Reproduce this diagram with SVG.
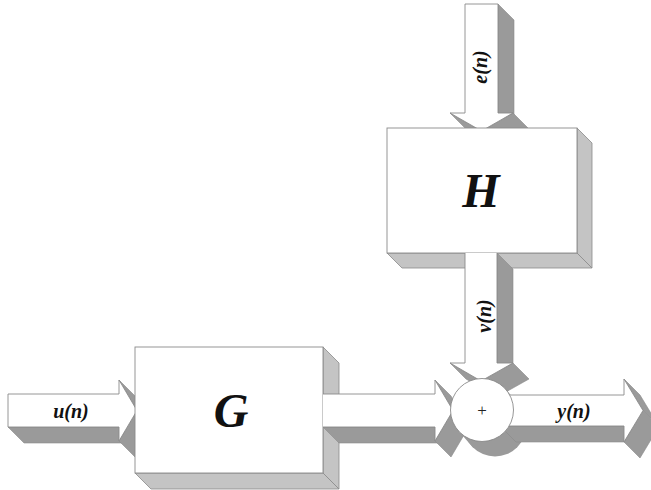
<svg xmlns="http://www.w3.org/2000/svg" width="651" height="490" viewBox="0 0 651 490">
<style>
.bg{fill:#ffffff}
.face{fill:#ffffff;stroke:#8a8a8a;stroke-width:0.9;stroke-linejoin:miter}
.fill{fill:#ffffff;stroke:none}
.edge{fill:none;stroke:#8a8a8a;stroke-width:0.9}
.sh{fill:#9a9a9a;stroke:#8a8a8a;stroke-width:0.6;stroke-linejoin:round}
.side{fill:#c4c4c4;stroke:#8a8a8a;stroke-width:0.8}
.lbl{font-family:"Liberation Serif","Times New Roman",serif;font-weight:bold;font-style:italic;fill:#111}
.big{font-size:48px}
.sm{font-size:20px}
.plus{font-family:"Liberation Serif","Times New Roman",serif;font-size:17px;fill:#222}
</style>
<rect class="bg" x="0" y="0" width="651" height="490"/>

<g id="connectors">
  <!-- u(n) input arrow -->
  <g id="arrow-u">
    <polygon class="sh" points="8,427 119,427 135,443 24,443"/>
    <polygon class="sh" points="119,380 137,410.5 153,426.5 135,396"/>
    <polygon class="sh" points="137,410.5 119,441 135,457 153,426.5"/>
    <polygon class="face" points="8,394 119,394 119,380 137,410.5 119,441 119,427 8,427"/>
    <text class="lbl sm" x="71" y="418" text-anchor="middle">u(n)</text>
  </g>
  <!-- e(n) input arrow -->
  <g id="arrow-e">
    <polygon class="sh" points="498,4 514,20 514,129 498,113"/>
    <polygon class="sh" points="513,113 481.5,131 497.5,147 529,129"/>
    <polygon class="sh" points="481.5,131 450,113 466,129 497.5,147"/>
    <polygon class="face" points="465,4 498,4 498,113 513,113 481.5,131 450,113 465,113"/>
    <g transform="translate(481,67) rotate(-90)"><text class="lbl sm" x="0" y="6" text-anchor="middle">e(n)</text></g>
  </g>
</g>

<g id="node-G">
  <polygon class="side" points="323,347 339,363 339,489 323,473"/>
  <polygon class="side" points="135,473 323,473 339,489 151,489"/>
  <rect class="face" x="135" y="347" width="188" height="126"/>
  <text class="lbl big" x="231" y="427" text-anchor="middle">G</text>
</g>

<g id="node-H">
  <polygon class="side" points="577,128 592,143 592,268 577,253"/>
  <polygon class="side" points="387,253 577,253 592,268 402,268"/>
  <rect class="face" x="387" y="128" width="190" height="125"/>
  <text class="lbl big" x="481" y="207" text-anchor="middle">H</text>
</g>

<g id="node-sum-shadow">
  <circle cx="495" cy="425" r="31.5" fill="#9a9a9a"/>
  <polygon points="504.3,387.7 459.7,432.3 472.7,447.3 517.3,402.7" fill="#9a9a9a"/>
</g>

<g id="connectors-out">
  <!-- y(n) output arrow -->
  <g id="arrow-y">
    <polygon class="sh" points="500,426 624,426 640,442 516,442"/>
    <polygon class="sh" points="624,379 643,410.5 659,426.5 640,395"/>
    <polygon class="sh" points="643,410.5 624,442 640,458 659,426.5"/>
    <polygon class="face" points="500,395 624,395 624,379 643,410.5 624,442 624,426 500,426"/>
    <text class="lbl sm" x="574" y="418" text-anchor="middle">y(n)</text>
  </g>
  <!-- G to sum arrow -->
  <g id="arrow-G-sum">
    <polygon class="sh" points="323,427 435,427 451,443 339,443"/>
    <polygon class="sh" points="435,380 453,410.5 469,426.5 451,396"/>
    <polygon class="sh" points="453,410.5 435,441 451,457 469,426.5"/>
    <polygon class="fill" points="323,394 435,394 435,380 453,410.5 435,441 435,427 323,427"/>
    <polyline class="edge" points="323,394 435,394 435,380 453,410.5 435,441 435,427 323,427"/>
  </g>
  <!-- H to sum arrow v(n) -->
  <g id="arrow-v">
    <polygon class="sh" points="497,253 497,363 513,379 513,269"/>
    <polygon class="sh" points="513,363 481,381 497,397 529,379"/>
    <polygon class="sh" points="481,381 450,363 466,379 497,397"/>
    <polygon class="fill" points="465,253 497,253 497,363 513,363 481,381 450,363 465,363"/>
    <polyline class="edge" points="465,253 465,363 450,363 481,381 513,363 497,363 497,253"/>
    <g transform="translate(485,316) rotate(-90)"><text class="lbl sm" x="0" y="6" text-anchor="middle">v(n)</text></g>
  </g>
</g>

<g id="node-sum">
  <circle class="face" cx="482" cy="410" r="31.5"/>
  <text class="plus" x="482" y="415.5" text-anchor="middle">+</text>
</g>
</svg>
